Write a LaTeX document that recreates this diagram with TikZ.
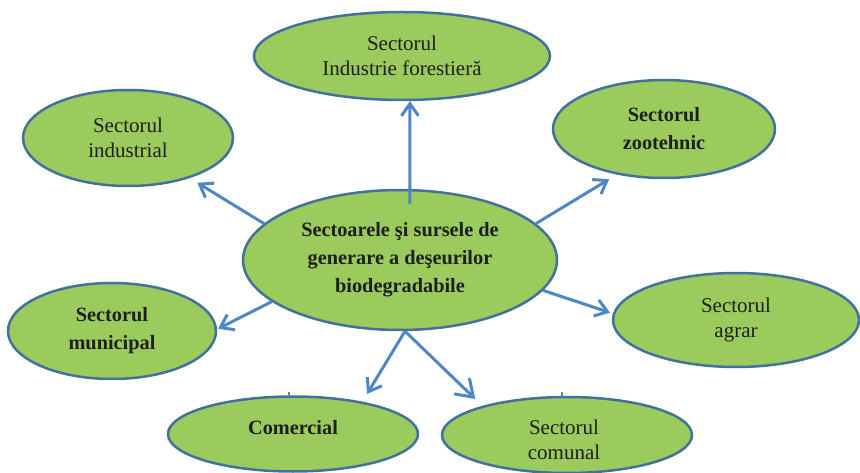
\documentclass[tikz,border=0pt]{standalone}
\usepackage{fontspec}
\setmainfont{Liberation Serif}
\usetikzlibrary{shapes.geometric,arrows.meta}
\definecolor{fillg}{HTML}{9CCB5D}
\definecolor{edgeb}{HTML}{41719C}
\definecolor{arrb}{HTML}{4F86C6}
\definecolor{txt}{HTML}{1E1E1E}
\begin{document}
\begin{tikzpicture}[x=1pt,y=-1pt,
  blob/.style={ellipse,draw=edgeb,fill=fillg,line width=2.5pt,inner sep=0pt,text=txt,align=center},
  normt/.style={font=\fontsize{21}{25}\selectfont},
  boldt/.style={font=\fontsize{20.3}{28}\selectfont\bfseries},
  plaintext/.style={inner sep=0pt,text=txt,align=center},
  arr/.style={draw=arrb,line width=3pt,-{Straight Barb[length=12pt,width=17pt]}},
  bigarr/.style={draw=arrb,line width=3pt,-{Straight Barb[length=16pt,width=22pt]}},
  tickmark/.style={draw=arrb,line width=1.5pt}]
\useasboundingbox (0,0) rectangle (860,473);
\clip (0,0) rectangle (860,473);

\node[blob,normt,minimum width=296pt,minimum height=88pt] (tp) at (402,56) {Sectorul\\Industrie forestieră};
\node[blob,normt,minimum width=210pt,minimum height=96pt] (ind) at (128,138) {Sectorul\\industrial};
\node[blob,boldt,minimum width=222pt,minimum height=98pt] (zoo) at (664,129) {Sectorul\\zootehnic};
\node[blob,boldt,minimum width=208pt,minimum height=96pt] (mun) at (112,331) {Sectorul\\municipal};
\node[blob,normt,minimum width=246pt,minimum height=94pt] (agr) at (736,320) {Sectorul\\agrar};
\node[blob,minimum width=250pt,minimum height=75pt] (com) at (293,434) {};
\node[plaintext,boldt] (comt) at (293,428) {Comercial};
\node[blob,minimum width=250pt,minimum height=76pt] (cmn) at (567,435) {};
\node[plaintext,normt] (cmnt) at (564,440) {Sectorul\\comunal};
\node[blob,boldt,minimum width=314pt,minimum height=140pt] (cen) at (400,260) {Sectoarele şi sursele de\\generare a deşeurilor\\biodegradabile};

\draw[arr] ([yshift=-15pt]cen.82) -- (tp.-80);
\draw[arr,shorten >=9pt] (cen.165) -- (ind.-33.5);
\draw[arr,shorten >=9pt] (cen.15) -- (zoo.-136.4);
\draw[arr,shorten >=3pt] (cen.-12.8) -- (agr.177.2);
\draw[arr,shorten >=1pt] (cen.-162) -- (mun.1);
\draw[arr,shorten >=9pt] (cen.-86) -- (com.25.2);
\draw[bigarr,shorten >=10pt] (cen.-86) -- (cmn.161.7);

\coordinate (t1a) at (289,392);
\coordinate (t1b) at (289,397);
\coordinate (t2a) at (562,392);
\coordinate (t2b) at (562,397);
\draw[tickmark] (t1a) -- (t1b);
\draw[tickmark] (t2a) -- (t2b);
\end{tikzpicture}
\end{document}
